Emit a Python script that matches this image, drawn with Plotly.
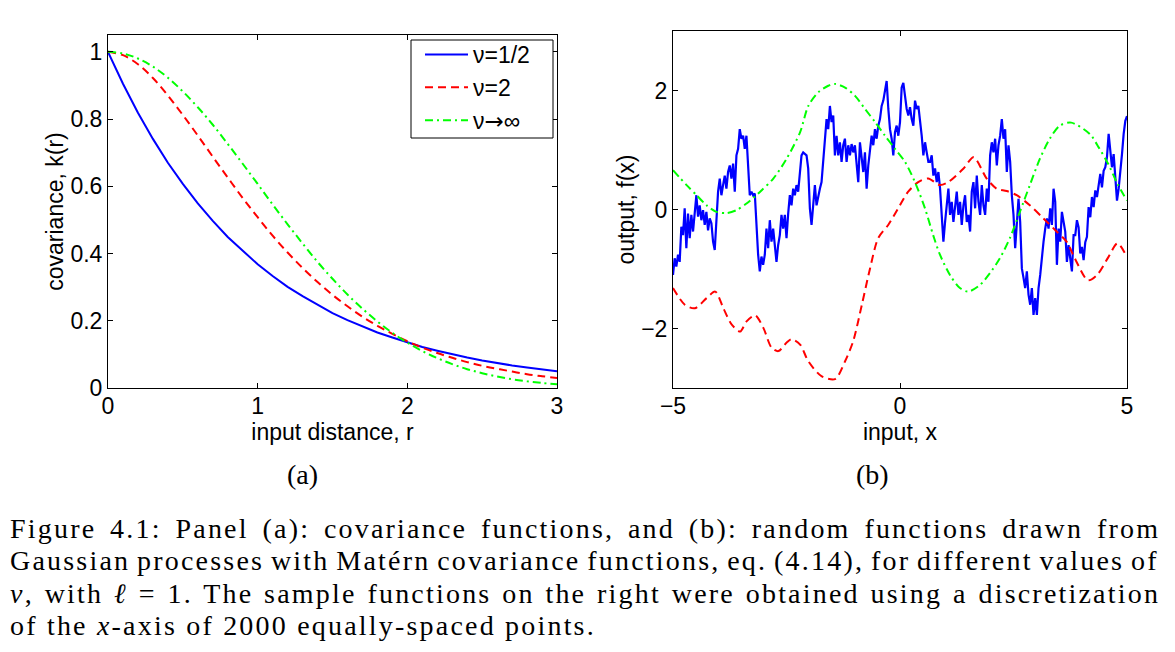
import numpy as np
import plotly.graph_objects as go

W, H = 1175, 652
OFF = 8                      # the page body adds an 8px margin round the figure
FW, FH = W - OFF, H - OFF    # figure size


def px(p):
    return (p - OFF) / FW


def py(p):
    return 1 - (p - OFF) / FH


# ---- panel (a): covariance functions, every 0.1 in r
r_vals = [0.0, 0.1, 0.2, 0.3, 0.4, 0.5, 0.6, 0.7, 0.8, 0.9, 1.0,
          1.1, 1.2, 1.3, 1.4, 1.5, 1.6, 1.7, 1.8, 1.9, 2.0,
          2.1, 2.2, 2.3, 2.4, 2.5, 2.6, 2.7, 2.8, 2.9, 3.0]
k_half = [1.0, 0.905, 0.819, 0.741, 0.670, 0.607, 0.549, 0.497, 0.449, 0.407, 0.368,
          0.333, 0.301, 0.273, 0.247, 0.223, 0.202, 0.183, 0.165, 0.150, 0.135,
          0.122, 0.111, 0.100, 0.091, 0.082, 0.074, 0.067, 0.061, 0.055, 0.050]
k_two = [1.0, 0.990, 0.963, 0.922, 0.870, 0.812, 0.751, 0.688, 0.626, 0.565, 0.508,
         0.453, 0.403, 0.357, 0.315, 0.277, 0.243, 0.212, 0.185, 0.161, 0.139,
         0.120, 0.104, 0.090, 0.077, 0.066, 0.057, 0.049, 0.041, 0.035, 0.030]
k_inf = [1.0, 0.995, 0.980, 0.956, 0.923, 0.882, 0.835, 0.783, 0.726, 0.667, 0.607,
         0.546, 0.487, 0.430, 0.375, 0.325, 0.278, 0.236, 0.198, 0.164, 0.135,
         0.110, 0.089, 0.071, 0.056, 0.044, 0.034, 0.026, 0.020, 0.015, 0.011]

# ---- panel (b): sample functions
# nu = 1/2 sample, read on an evenly spaced grid across [-5, 5]
f_half = [
    -1.10, -0.82, -0.96, -0.76, -0.88, -0.29, -0.43, 0.02, -0.65, -0.07,
    -0.48, -0.09, -0.37, 0.02, 0.24, -0.12, 0.07, -0.18, -0.01, -0.26,
    -0.04, -0.35, -0.15, -0.23, -0.54, -0.68, -0.09, 0.30, 0.52, 0.24,
    0.41, 0.57, 0.35, 0.63, 0.74, 0.52, 0.77, 0.30, 0.91, 1.02,
    1.35, 1.19, 1.24, 1.02, 1.24, 0.63, 0.24, 0.30, 0.24, 0.27,
    -0.32, -0.76, -1.04, -0.79, -0.93, -0.76, -0.32, -0.65, -0.18, -0.54,
    -0.32, -0.65, -0.88, -0.60, -0.43, -0.09, -0.32, -0.09, -0.48, -0.07,
    0.24, 0.07, 0.35,
    0.24, 0.41, 0.30, 0.63, 0.91, 0.96, 0.94, 0.91, 0.69, 0.02,
    -0.26, 0.02, 0.41, 0.07, 0.24, 0.35, 0.46, 0.80, 1.13, 1.52,
    1.35, 1.74, 1.47, 1.58, 0.91, 1.24, 0.91, 1.13, 0.80, 1.08,
    1.19, 0.80, 1.08, 0.91, 1.10, 0.96, 1.08, 0.80, 0.46, 1.13,
    0.91, 0.63, 0.96, 0.35, 0.74, 1.02, 1.24, 1.08, 1.35, 1.19,
    1.41, 1.52, 1.74, 1.83, 1.97, 2.16, 1.69, 1.35, 1.19, 0.91,
    1.30, 1.41, 1.24, 1.47, 2.05, 2.13, 1.91, 1.69, 1.58, 1.72,
    1.52, 1.41, 1.83, 1.69, 1.74, 1.52, 1.24, 0.91, 1.13, 0.96,
    0.80,
    0.80, 0.91, 0.57, 0.69, 0.46, 0.63, 0.35, -0.09, -0.54, -0.21,
    0.13, 0.35, -0.09, 0.13, -0.21, 0.02, 0.30, -0.09, 0.13, -0.26,
    0.07, 0.24, -0.21, -0.09, -0.37, 0.30, 0.46, 0.02, 0.57, 0.13,
    -0.09, 0.41, 0.07, -0.09, 0.35, 0.13, 0.91, 1.13, 0.96, 1.19,
    0.74, 1.08, 1.24, 1.52, 1.19, 1.35, 0.63, 1.08, 0.80, 0.24,
    -0.09, -0.65, -0.21, 0.18, -0.21, -0.99, -1.15, -1.32, -1.04, -1.43,
    -1.60, -1.32, -1.77, -1.49, -1.77, -1.32, -1.10, -0.76, -0.54, -0.32,
    -0.15, -0.32, 0.02, -0.26, 0.35, 0.13, -0.93, -0.32, -0.54, -0.04,
    -0.21, -0.37, -0.88, -0.60, -0.82, -1.04, -0.43, -0.43,
    -0.18, -0.30, -0.74, -0.63, -0.85, -0.55, -0.46, 0.04, -0.13, 0.21,
    0.04, 0.32, 0.21, 0.45, 0.60, 0.37, 0.65, 0.71, 0.88, 1.27,
    1.04, 0.71, 0.93, 0.48, 0.15, 0.35, 0.60, 0.93, 1.27, 1.49,
    1.57,
]
x_half = np.linspace(-5, 5, len(f_half))

x_two = [-5.0, -4.74, -4.52, -4.26, -4.07, -3.89, -3.71, -3.52, -3.38, -3.19,
         -3.01, -2.83, -2.68, -2.50, -2.39, -2.20, -2.02, -1.73, -1.43, -1.21,
         -1.03, -0.84, -0.66, -0.48, -0.26, -0.04, 0.18, 0.40, 0.62, 0.88,
         1.06, 1.40, 1.62, 1.91, 2.13, 2.35, 2.57, 2.86, 3.16, 3.45,
         3.67, 3.85, 4.14, 4.34, 4.59, 4.79, 5.0]
f_two = [-1.32, -1.60, -1.66, -1.49, -1.38, -1.66, -1.93, -2.05, -1.88, -1.78,
         -1.99, -2.32, -2.38, -2.24, -2.18, -2.27, -2.55, -2.80, -2.85, -2.55,
         -2.21, -1.60, -0.99, -0.48, -0.26, 0.02, 0.30, 0.46, 0.52, 0.41,
         0.46, 0.69, 0.88, 0.52, 0.35, 0.31, 0.24, 0.07, -0.15, -0.37,
         -0.54, -0.82, -1.19, -1.10, -0.80, -0.57, -0.80]

x_inf = [-5.0, -4.70, -4.48, -4.26, -4.04, -3.82, -3.60, -3.38, -3.08, -2.79,
         -2.50, -2.20, -2.02, -1.80, -1.58, -1.43, -1.21, -0.99, -0.77, -0.55,
         -0.33, -0.11, 0.11, 0.33, 0.55, 0.73, 0.88, 1.10, 1.32, 1.50,
         1.76, 1.98, 2.20, 2.42, 2.64, 2.86, 3.08, 3.30, 3.52, 3.77,
         4.18, 4.38, 4.59, 4.79, 5.0]
f_inf = [0.66, 0.41, 0.24, 0.07, -0.04, -0.06, -0.01, 0.10, 0.30, 0.52,
         0.85, 1.30, 1.74, 1.97, 2.08, 2.11, 2.05, 1.91, 1.69, 1.47,
         1.24, 1.02, 0.80, 0.46, 0.02, -0.43, -0.76, -1.10, -1.32, -1.38,
         -1.27, -1.07, -0.82, -0.48, -0.04, 0.41, 0.85, 1.19, 1.41, 1.46,
         1.27, 1.04, 0.76, 0.43, 0.15]

caption_lines = [
    "Figure 4.1: Panel (a): covariance functions, and (b): random functions drawn from",
    "Gaussian processes with Matérn covariance functions, eq. (4.14), for different values of",
    "<i>ν</i>, with <i>ℓ</i> = 1. The sample functions on the right were obtained using a discretization",
    "of the <i>x</i>-axis of 2000 equally-spaced points.",
]
# extra word spacing per caption line (px) to mimic the justified TeX lines
caption_wordspace = [4.6, -2.4, 1.6, 0.0]

BLUE, RED, GREEN = "#0000ff", "#ff0000", "#00ff00"
SANS = "Liberation Sans"
SERIF = "Liberation Serif"
ARROW = '<span style="font-family:DejaVu Sans">→</span>'

fig = go.Figure()

# panel (a)
fig.add_trace(go.Scatter(x=r_vals, y=k_half, mode="lines", name="ν=1/2",
                         line=dict(color=BLUE, width=2), xaxis="x", yaxis="y"))
fig.add_trace(go.Scatter(x=r_vals, y=k_two, mode="lines", name="ν=2",
                         line=dict(color=RED, width=2, dash="8px,5px", shape="spline"),
                         xaxis="x", yaxis="y"))
fig.add_trace(go.Scatter(x=r_vals, y=k_inf, mode="lines", name="ν" + ARROW + "∞",
                         line=dict(color=GREEN, width=2, dash="8px,4px,2px,4px", shape="spline"),
                         xaxis="x", yaxis="y"))

# panel (b)
fig.add_trace(go.Scatter(x=x_half, y=f_half, mode="lines", showlegend=False,
                         line=dict(color=BLUE, width=2.2), xaxis="x2", yaxis="y2"))
fig.add_trace(go.Scatter(x=x_two, y=f_two, mode="lines", showlegend=False,
                         line=dict(color=RED, width=2, dash="8px,5px", shape="spline", smoothing=0.8),
                         xaxis="x2", yaxis="y2"))
fig.add_trace(go.Scatter(x=x_inf, y=f_inf, mode="lines", showlegend=False,
                         line=dict(color=GREEN, width=2, dash="8px,4px,2px,4px", shape="spline", smoothing=0.8),
                         xaxis="x2", yaxis="y2"))

axis_common = dict(
    showline=True, linecolor="black", linewidth=1, mirror="ticks",
    ticks="inside", ticklen=5, tickcolor="black", tickwidth=1,
    showgrid=False, zeroline=False, automargin=False,
    tickfont=dict(family=SANS, size=23, color="black"),
    title_font=dict(family=SANS, size=23, color="black"),
)

fig.update_layout(
    width=FW, height=FH, autosize=False,
    margin=dict(l=0, r=0, t=0, b=0, pad=0),
    paper_bgcolor="white", plot_bgcolor="white",
    xaxis=dict(axis_common, domain=[px(108), px(557)], range=[0, 3],
               tickvals=[0, 1, 2, 3], ticklabelstandoff=-3,
               title=dict(text="input distance, r", standoff=1), anchor="y"),
    yaxis=dict(axis_common, domain=[py(388), py(35)], range=[0, 1.05],
               tickvals=[0, 0.2, 0.4, 0.6, 0.8, 1],
               ticktext=["0", "0.2", "0.4", "0.6", "0.8", "1"],
               title=dict(text="covariance, k(r)", standoff=0), anchor="x"),
    xaxis2=dict(axis_common, domain=[px(673), px(1127)], range=[-5, 5],
                tickvals=[-5, 0, 5], ticklabelstandoff=-3,
                title=dict(text="input, x", standoff=1), anchor="y2"),
    yaxis2=dict(axis_common, domain=[py(388), py(31)], range=[-3, 3],
                tickvals=[-2, 0, 2], title=dict(text="output, f(x)", standoff=0),
                anchor="x2"),
    legend=dict(x=px(420), y=py(33), xanchor="left", yanchor="top",
                bgcolor="rgba(0,0,0,0)", borderwidth=0, itemwidth=43,
                font=dict(family=SANS, size=23, color="black")),
    showlegend=True,
    # legend frame
    shapes=[dict(type="rect", xref="paper", yref="paper",
                 x0=px(411), x1=px(553), y0=py(138), y1=py(40),
                 line=dict(color="black", width=1), fillcolor="white", layer="above")],
)

annotations = [
    dict(text="(a)", x=px(302), y=py(475), xanchor="center",
         font=dict(family=SERIF, size=28, color="black")),
    dict(text="(b)", x=px(872), y=py(475), xanchor="center",
         font=dict(family=SERIF, size=28, color="black")),
]
for i, line in enumerate(caption_lines):
    styled = ('<span style="letter-spacing:2.2px;word-spacing:%.1fpx">%s</span>'
              % (caption_wordspace[i], line))
    annotations.append(dict(text=styled, x=px(8), y=py(528 + 32.5 * i),
                            xanchor="left", align="left",
                            font=dict(family=SERIF, size=28, color="black")))
for a in annotations:
    a.update(xref="paper", yref="paper", showarrow=False, yanchor="middle")
fig.update_layout(annotations=annotations)

fig.write_html("out.html")
